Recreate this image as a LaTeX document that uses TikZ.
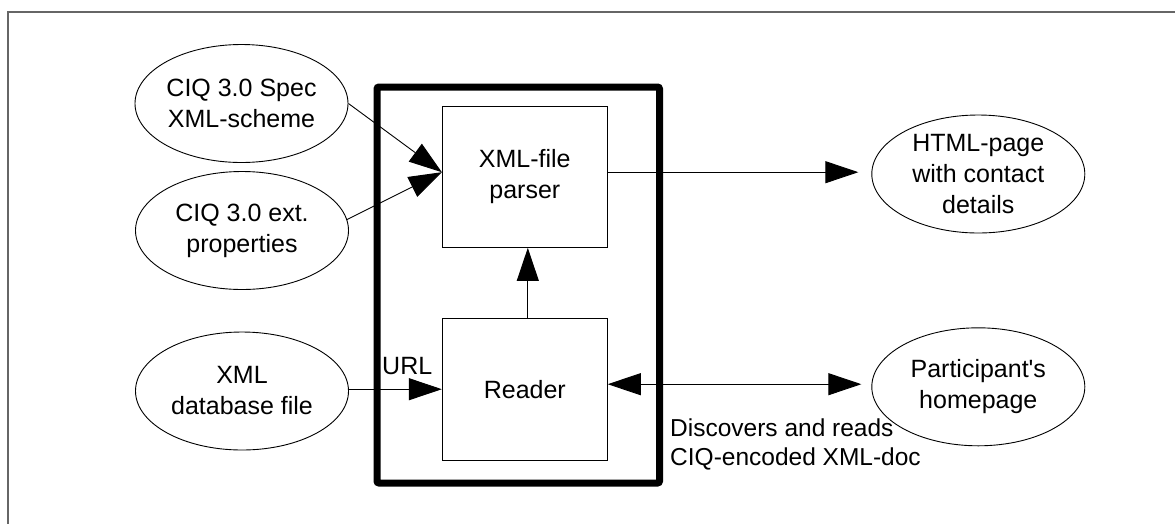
\documentclass[tikz,border=0pt]{standalone}
\usepackage{fontspec}
\setmainfont{Liberation Sans}
\usetikzlibrary{shapes.geometric,arrows.meta,calc}

\begin{document}
\begin{tikzpicture}[x=1pt,y=-1pt,
    txt/.style={font=\fontsize{25}{31}\selectfont, align=center, text=black},
    source/.style={txt, ellipse, draw=black, line width=0.9pt,
                   minimum width=213pt, minimum height=118pt, inner sep=0pt},
    module/.style={txt, rectangle, draw=black, line width=0.9pt,
                   minimum width=165pt, minimum height=141.5pt, inner sep=0pt},
    flow/.style={draw=black, line width=0.9pt, -{Triangle[length=33pt,width=22pt]}},
    dflow/.style={draw=black, line width=0.9pt,
                  {Triangle[length=33pt,width=22pt]}-{Triangle[length=33pt,width=22pt]}},
    frame/.style={draw=black!60, line width=1.6pt},
    sysbox/.style={draw=black, line width=7pt, rounded corners=2pt}
  ]
  \useasboundingbox (0,0) rectangle (1175,523);

  % outer page frame
  \draw[frame] (8,530) -- (8,12) -- (1180,12);

  % input documents
  \node[source] (spec)   at (241.5,103.5) {CIQ 3.0 Spec\\XML-scheme};
  \node[source] (ext)    at (242,230.5)   {CIQ 3.0 ext.\\properties};
  \node[source] (dbfile) at (242,391)     {XML\\database file};

  % outputs
  \node[source] (html) at (978.3,174)   {HTML-page\\with contact\\details};
  \node[source] (home) at (978.3,386.8) {Participant\textquotesingle s\\homepage};

  % processing modules
  \node[module] (parser) at (524.8,176.7) {XML-file\\parser};
  \node[module] (reader) at (524.8,389.2) {Reader};

  % connection points on the modules
  \coordinate (pin)  at ($(parser.west)+(0,-4.5)$);
  \coordinate (pout) at ($(parser.east)+(0,-4.5)$);
  \coordinate (rout) at ($(reader.east)+(0,-5)$);
  \coordinate (rtop) at ($(reader.north)+(3,0)$);

  % connectors
  \draw[flow] (spec.east) -- (pin);
  \draw[flow] (ext.6) -- (pin);
  \draw[flow] (reader.west -| dbfile.east) -- (reader.west);
  \draw[flow] (rtop) -- (rtop |- parser.south);
  \draw[flow, shorten >=13pt] (pout) -- (pout -| html.west);
  \draw[dflow, shorten >=10pt] (rout) -- (rout -| home.west);

  % system boundary
  \draw[sysbox] (377,87) rectangle (659.5,483);

  % labels
  \node[txt, anchor=base west, inner sep=0pt] (url) at (382,374) {URL};
  \node[anchor=base west, inner sep=0pt, align=left,
        font=\fontsize{24.5}{28.5}\selectfont] (disc) at (670,465)
        {Discovers and reads\\CIQ-encoded XML-doc};
\end{tikzpicture}
\end{document}
